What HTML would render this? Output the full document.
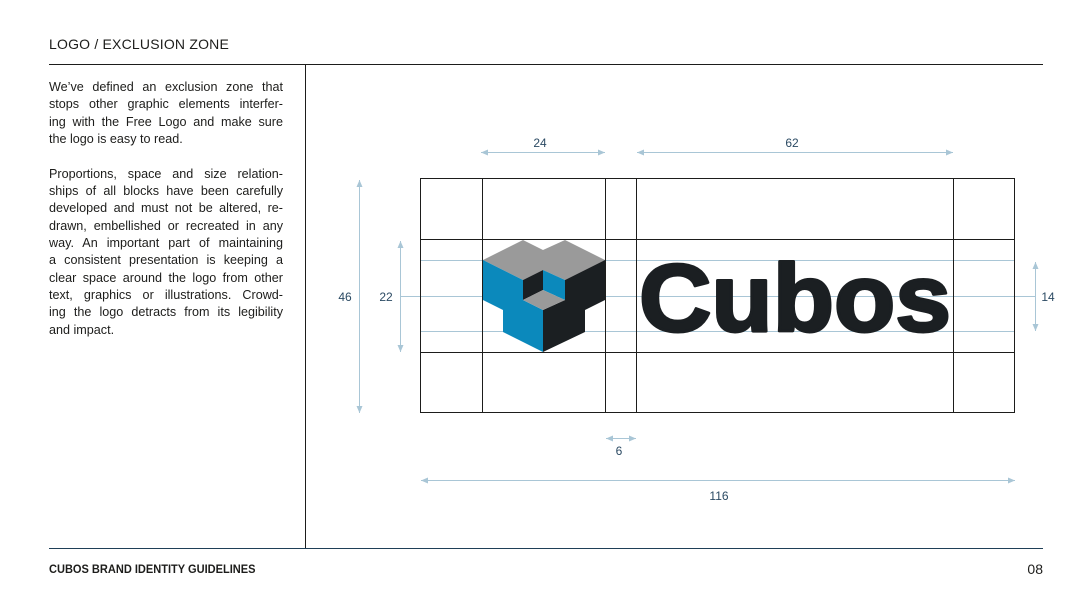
<!DOCTYPE html>
<html><head><meta charset="utf-8"><style>
body{margin:0;background:#fff;width:1088px;height:611px;overflow:hidden;position:relative;font-family:"Liberation Sans",sans-serif;color:#1d1d1b}
.t{position:absolute;left:49px;top:36px;font-size:14px;letter-spacing:0.2px}
.p{position:absolute;left:49px;top:79px;width:234px;font-size:12.6px;line-height:17.35px}
.p div{text-align:justify;text-align-last:justify;white-space:nowrap;height:17.35px}
.p div.l{text-align-last:left}
.f{position:absolute;left:49px;top:562px;font-size:12px;font-weight:bold;transform:scaleX(0.92);transform-origin:left}
.n{position:absolute;right:45px;top:561px;font-size:14px}
</style></head><body>
<div class="t">LOGO / EXCLUSION ZONE</div>
<div class="p">
<div>We’ve defined an exclusion zone that</div>
<div>stops other graphic elements interfer-</div>
<div>ing with the Free Logo and make sure</div>
<div class="l">the logo is easy to read.</div>
<div class="l"></div>
<div>Proportions, space and size relation-</div>
<div>ships of all blocks have been carefully</div>
<div>developed and must not be altered, re-</div>
<div>drawn, embellished or recreated in any</div>
<div>way. An important part of maintaining</div>
<div>a consistent presentation is keeping a</div>
<div>clear space around the logo from other</div>
<div>text, graphics or illustrations. Crowd-</div>
<div>ing the logo detracts from its legibility</div>
<div class="l">and impact.</div>
</div>
<div class="f">CUBOS BRAND IDENTITY GUIDELINES</div>
<div class="n">08</div>
<svg width="1088" height="611" style="position:absolute;left:0;top:0" xmlns="http://www.w3.org/2000/svg">
<defs><marker id="a" markerWidth="8" markerHeight="8" refX="7" refY="4" orient="auto-start-reverse" markerUnits="userSpaceOnUse"><path d="M0,1 L7,4 L0,7z" fill="#a9c6d6"/></marker></defs>
<line x1="49" y1="64.5" x2="1043" y2="64.5" stroke="#1d1d1b"/>
<line x1="305.5" y1="64" x2="305.5" y2="548" stroke="#1d1d1b"/>
<line x1="49" y1="548.5" x2="1043" y2="548.5" stroke="#1f3f57"/>
<g stroke="#a9c6d6" stroke-width="1">
<line x1="420" y1="260.5" x2="1015" y2="260.5"/>
<line x1="400" y1="296.5" x2="1035" y2="296.5"/>
<line x1="420" y1="331.5" x2="1015" y2="331.5"/>
</g>
<polygon points="483,260 523,240 543,250 565,240 605,260 565,280 543,270 523,280" fill="#9a9a9a"/>
<polygon points="483,260 523,280 523,300 543,310 543,352 503,332 503,310 483,300" fill="#0b89bc"/>
<polygon points="605,260 605,300 585,310 585,332 543,352 543,310 565,300 565,280" fill="#1b1f22"/>
<polygon points="523,280 543,270 543,290 523,300" fill="#1b1f22"/>
<polygon points="543,270 565,280 565,300 543,290" fill="#0b89bc"/>
<polygon points="543,290 565,300 543,310 523,300" fill="#9a9a9a"/>
<text x="639" y="331" font-family="Liberation Sans" font-weight="bold" font-size="96" fill="#1b1f22" stroke="#1b1f22" stroke-width="3" stroke-linejoin="round" textLength="312" lengthAdjust="spacingAndGlyphs">Cubos</text>
<g stroke="#1d1d1b" stroke-width="1" fill="none">
<rect x="420.5" y="178.5" width="594" height="234"/>
<line x1="482.5" y1="178" x2="482.5" y2="413"/>
<line x1="605.5" y1="178" x2="605.5" y2="413"/>
<line x1="636.5" y1="178" x2="636.5" y2="413"/>
<line x1="953.5" y1="178" x2="953.5" y2="413"/>
<line x1="420" y1="239.5" x2="1015" y2="239.5"/>
<line x1="420" y1="352.5" x2="1015" y2="352.5"/>
</g>
<g stroke="#a9c6d6" stroke-width="1" marker-start="url(#a)" marker-end="url(#a)">
<line x1="481" y1="152.5" x2="605" y2="152.5"/>
<line x1="637" y1="152.5" x2="953" y2="152.5"/>
<line x1="359.5" y1="180" x2="359.5" y2="413"/>
<line x1="400.5" y1="241" x2="400.5" y2="352"/>
<line x1="1035.5" y1="262" x2="1035.5" y2="331"/>
<line x1="606" y1="438.5" x2="636" y2="438.5"/>
<line x1="421" y1="480.5" x2="1015" y2="480.5"/>
</g>
<g font-family="Liberation Sans" font-size="12" fill="#2b4a63" text-anchor="middle">
<text x="540" y="147">24</text>
<text x="792" y="147">62</text>
<text x="345" y="301">46</text>
<text x="386" y="301">22</text>
<text x="1048" y="301">14</text>
<text x="619" y="455">6</text>
<text x="719" y="500">116</text>
</g>
</svg>
</body></html>
